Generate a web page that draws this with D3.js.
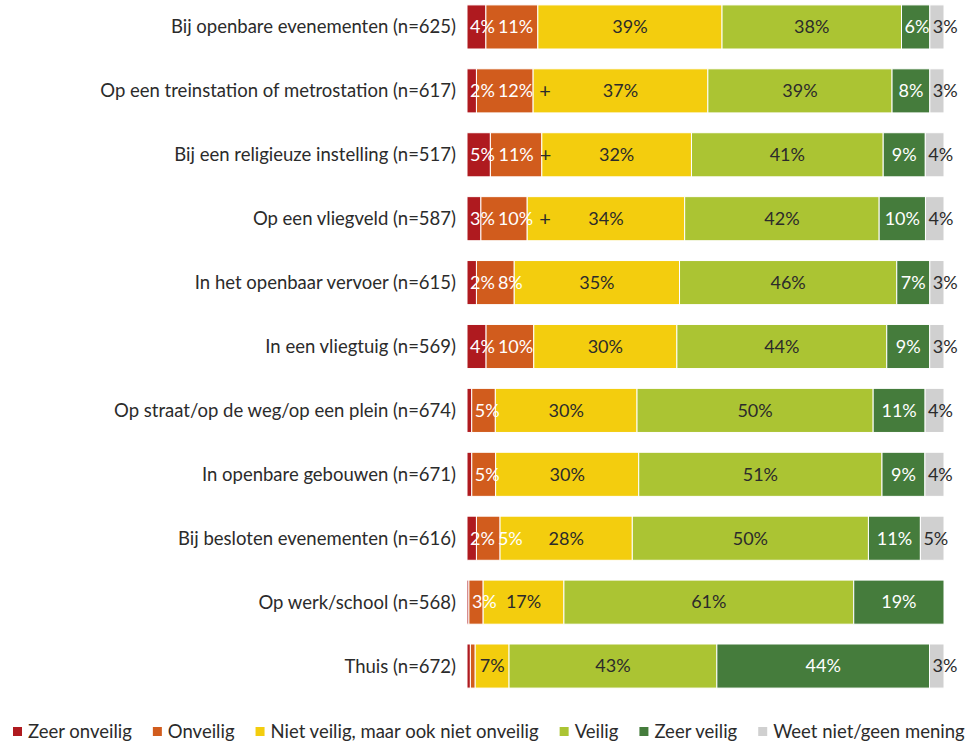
<!DOCTYPE html>
<html>
<head>
<meta charset="utf-8">
<script src="https://cdn.jsdelivr.net/npm/d3@7"></script>
<style>
  html, body { margin: 0; padding: 0; background: #fff; }
  svg { display: block; font-family: "Lato", "Noto Sans", sans-serif; }
</style>
</head>
<body>
<svg id="chart" width="978" height="741"></svg>
<script>
// Veiligheidsgevoel per locatie (percentages per rij)
const categories = [
  "Bij openbare evenementen (n=625)",
  "Op een treinstation of metrostation (n=617)",
  "Bij een religieuze instelling (n=517)",
  "Op een vliegveld (n=587)",
  "In het openbaar vervoer (n=615)",
  "In een vliegtuig (n=569)",
  "Op straat/op de weg/op een plein (n=674)",
  "In openbare gebouwen (n=671)",
  "Bij besloten evenementen (n=616)",
  "Op werk/school (n=568)",
  "Thuis (n=672)"
];
const seriesNames = [
  "Zeer onveilig",
  "Onveilig",
  "Niet veilig, maar ook niet onveilig",
  "Veilig",
  "Zeer veilig",
  "Weet niet/geen mening"
];
const zeerOnveilig = [4, 2, 5, 3, 2, 4, 1, 1, 2, 0.4, 0.7];
const onveilig     = [11, 12, 11, 10, 8, 10, 5, 5, 5, 3, 1];
const neutraal     = [39, 37, 32, 34, 35, 30, 30, 30, 28, 17, 7];
const veilig       = [38, 39, 41, 42, 46, 44, 50, 51, 50, 61, 43];
const zeerVeilig   = [6, 8, 9, 10, 7, 9, 11, 9, 11, 19, 44];
const weetNiet     = [3, 3, 4, 4, 3, 3, 4, 4, 5, 0, 3];
// significantiemarkering achter het label van "Onveilig"
const markering    = ["", "+", "+", "+", "", "", "", "", "", "", ""];

const colors = ["#AF1A1F", "#D15C1D", "#F3CD0E", "#ABC433", "#457C3C", "#D0D0D0"];
const labelColors = ["#fff", "#fff", "#2b2b2b", "#2b2b2b", "#fff", "#2b2b2b"];

const seriesValues = [zeerOnveilig, onveilig, neutraal, veilig, zeerVeilig, weetNiet];
const rows = categories.map((c, i) => {
  const vals = seriesValues.map(s => s[i]);
  const total = d3.sum(vals);
  let acc = 0;
  const segs = vals.map((v, k) => {
    const s = { key: k, value: v, x0: acc / total, x1: (acc + v) / total };
    acc += v;
    return s;
  });
  return { cat: c, segs, mark: markering[i] };
});

const svg = d3.select("#chart");
const x = d3.scaleLinear().domain([0, 1]).range([467, 944]);
const y = d3.scaleBand().domain(categories).range([-5, 698])
  .paddingInner(0.31).paddingOuter(0.155);

// categorie-labels links
svg.append("g").selectAll("text").data(categories).join("text")
  .attr("x", 456)
  .attr("y", d => y(d) + y.bandwidth() / 2)
  .attr("dy", "0.35em")
  .attr("text-anchor", "end")
  .attr("font-size", 18.5)
  .attr("fill", "#2b2b2b")
  .text(d => d);

const rowG = svg.append("g").selectAll("g").data(rows).join("g")
  .attr("transform", d => `translate(0,${y(d.cat)})`);

rowG.selectAll("rect").data(d => d.segs.filter(s => s.value > 0)).join("rect")
  .attr("x", s => x(s.x0))
  .attr("y", 0)
  .attr("width", s => x(s.x1) - x(s.x0))
  .attr("height", y.bandwidth())
  .attr("fill", s => colors[s.key])
  .attr("stroke", "#fff")
  .attr("stroke-width", 1);

// waardelabels: gecentreerd, maar nooit over het vorige label heen
rowG.each(function(d) {
  const g = d3.select(this);
  let prevEnd = -Infinity;
  d.segs.forEach(s => {
    if (s.value < 2) return;
    const t = g.append("text")
      .attr("y", y.bandwidth() / 2)
      .attr("dy", "0.35em")
      .attr("font-size", 18)
      .attr("fill", labelColors[s.key])
      .text(s.value + "%");
    const w = t.node().getComputedTextLength();
    const cx = (x(s.x0) + x(s.x1)) / 2;
    const start = Math.max(cx - w / 2, prevEnd + 3, x(s.x0) + 3);
    t.attr("x", start);
    prevEnd = start + w;
    if (s.key === 1 && d.mark) {
      g.append("text")
        .attr("x", prevEnd + 6)
        .attr("y", y.bandwidth() / 2)
        .attr("dy", "0.35em")
        .attr("font-size", 20)
        .attr("fill", "#2b2b2b")
        .text(d.mark);
    }
  });
});

// legenda
const legend = svg.append("g");
let lx = 13;
seriesNames.forEach((name, k) => {
  legend.append("rect")
    .attr("x", lx).attr("y", 727).attr("width", 9).attr("height", 9)
    .attr("fill", colors[k]);
  const t = legend.append("text")
    .attr("x", lx + 15).attr("y", 738)
    .attr("font-size", 18.5)
    .attr("fill", "#2b2b2b")
    .text(name);
  lx += 15 + t.node().getComputedTextLength() + 21;
});
</script>
</body>
</html>
